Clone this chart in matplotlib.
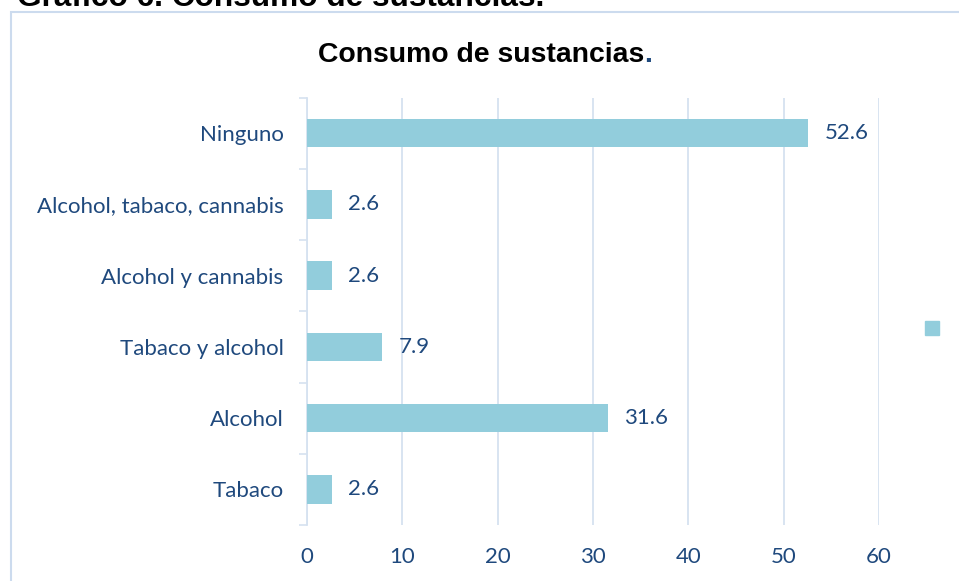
import matplotlib
matplotlib.use("Agg")
import matplotlib.pyplot as plt
from matplotlib.patches import Rectangle
import numpy as np

categories = ["Tabaco", "Alcohol", "Tabaco y alcohol", "Alcohol y cannabis",
              "Alcohol, tabaco, cannabis", "Ninguno"]
values = [2.6, 31.6, 7.9, 2.6, 2.6, 52.6]
xticks = [0, 10, 20, 30, 40, 50, 60]

bar_color = "#92CDDC"
text_color = "#1F497D"
grid_color = "#D6E2F0"
label_font = "Lato"

W, H = 959, 581
fig = plt.figure(figsize=(W / 100, H / 100), dpi=100)

# outer chart frame (only top and left edges are visible in the crop)
fig.add_artist(Rectangle((10.5 / W, -0.1), 1.2, 1.1 - 11.5 / H,
                         transform=fig.transFigure, fill=False,
                         edgecolor="#CCDBEE", linewidth=1.5))

ax = fig.add_axes([307 / W, 1 - 525 / H, (879 - 307) / W, (525 - 97.5) / H])
y = np.arange(len(categories))
ax.barh(y, values, height=0.4, color=bar_color, zorder=3)

for yi, v in zip(y, values):
    ax.annotate(f"{v:.1f}", (v, yi), xytext=(11.5, 0), textcoords="offset points",
                va="center", ha="left", color=text_color,
                fontsize=16, family=label_font)

ax.set_xlim(0, 60)
ax.set_ylim(-0.5, len(categories) - 0.5)
ax.set_xticks(xticks)
ax.set_xticklabels([str(t) for t in xticks], color=text_color,
                   fontsize=16, family=label_font)
ax.set_yticks(y)
ax.set_yticklabels(categories, color=text_color, fontsize=16, family=label_font)
ax.set_yticks(np.arange(-0.5, len(categories)), minor=True)

ax.tick_params(axis="x", length=0, pad=16)
ax.tick_params(axis="y", which="major", length=0, pad=17)
ax.tick_params(axis="y", which="minor", length=5.5, width=1.2, color=grid_color)

ax.grid(axis="x", color=grid_color, linewidth=1.3, zorder=0)
ax.yaxis.grid(False)
for s in ["top", "right", "bottom"]:
    ax.spines[s].set_visible(False)
ax.spines["left"].set_color(grid_color)
ax.spines["left"].set_linewidth(1.3)

# legend marker with no label
fig.add_artist(Rectangle((925 / W, 1 - 335 / H), 14 / W, 14 / H,
                         transform=fig.transFigure, color=bar_color))

# header above the chart (cut off in the source)
fig.text(17 / W, 1 - 6 / H, "Gráfico 6. Consumo de sustancias.",
         fontsize=22.8, fontweight="bold", family="Liberation Sans",
         ha="left", va="baseline")

# chart title, black with a blue final period
t = fig.text(318 / W, 1 - 62 / H, "Consumo de sustancias",
             fontsize=20.4, fontweight="bold", family="Liberation Sans",
             ha="left", va="baseline", color="black")
fig.canvas.draw()
bb = t.get_window_extent()
fig.text(bb.x1 / W, 1 - 62 / H, ".", fontsize=20.4, fontweight="bold",
         family="Liberation Sans", ha="left", va="baseline", color=text_color)

fig.savefig("out.png", dpi=100)
